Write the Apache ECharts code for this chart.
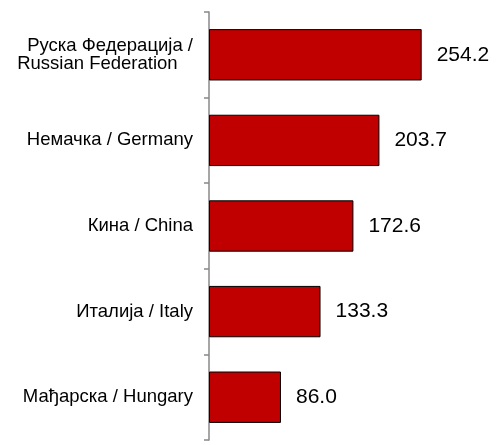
<!DOCTYPE html>
<html>
<head>
<meta charset="utf-8">
<script src="https://cdn.jsdelivr.net/npm/echarts@6/dist/echarts.min.js"></script>
<style>html,body{margin:0;padding:0;background:#fff}#c{width:498px;height:445px}</style>
</head>
<body>
<div id="c"></div>
<script>
const categories = [
  'Руска Федерација /\nRussian Federation   ',
  'Немачка / Germany',
  'Кина / China',
  'Италија / Italy',
  'Мађарска / Hungary'
];
const values = [254.2, 203.7, 172.6, 133.3, 86.0];

const chart = echarts.init(document.getElementById('c'), null, {renderer: 'canvas'});
chart.setOption({
  animation: false,
  backgroundColor: '#ffffff',
  grid: {left: 209, top: 12, width: 251, bottom: 5, containLabel: false},
  xAxis: {
    type: 'value', min: 0, max: 300, show: false
  },
  yAxis: {
    type: 'category',
    data: categories,
    inverse: true,
    axisLine: {show: true, lineStyle: {color: '#888888', width: 1.5}},
    axisTick: {show: true, length: 5, inside: false, lineStyle: {color: '#888888', width: 1.5}},
    axisLabel: {
      color: '#000000', fontSize: 18.5, fontFamily: 'Liberation Sans, Arial, sans-serif',
      margin: 16, lineHeight: 18
    },
    splitLine: {show: false}
  },
  series: [{
    type: 'bar',
    data: values,
    barWidth: '60%',
    itemStyle: {color: '#C00000', borderColor: '#000000', borderWidth: 1},
    label: {
      show: true, position: 'right', distance: 15,
      color: '#000000', fontSize: 21, fontFamily: 'Liberation Sans, Arial, sans-serif',
      formatter: p => p.value.toFixed(1)
    }
  }]
});
</script>
</body>
</html>
